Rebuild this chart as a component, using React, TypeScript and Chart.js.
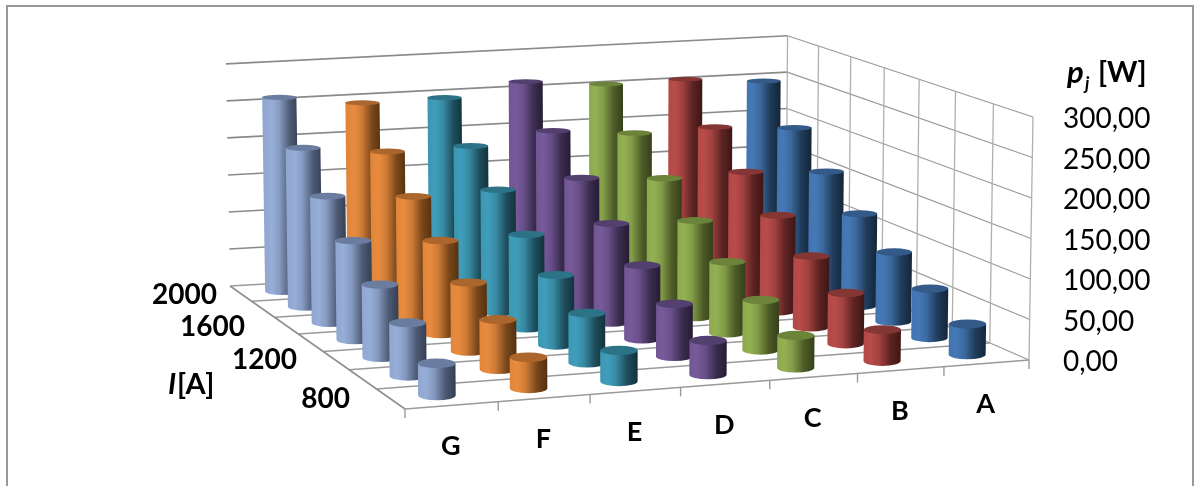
import React, { useEffect, useRef } from "react";
import { Chart, registerables } from "chart.js";

Chart.register(...registerables);

// Series run from the front-left of the floor to the right: G first, A last.
const categories = ["G", "F", "E", "D", "C", "B", "A"];
const currents = ["800", "1000", "1200", "1400", "1600", "1800", "2000"];
const currentTicks = ["800", "1200", "1600", "2000"];

const valuesG = [39, 66, 92, 127, 165, 210, 260];
const valuesF = [38, 62, 87, 120, 158, 199, 247];
const valuesE = [38, 62, 89, 121, 160, 200, 248];
const valuesD = [42, 66, 94, 128, 169, 214, 264];
const valuesC = [40, 63, 91, 125, 162, 205, 255];
const valuesB = [39, 64, 91, 125, 164, 207, 256];
const valuesA = [38, 62, 89, 120, 158, 200, 248];

const seriesValues = [valuesG, valuesF, valuesE, valuesD, valuesC, valuesB, valuesA];

const seriesBody = ["#97AED8", "#E98B3E", "#409DBA", "#775A9A", "#93B052", "#B84C49", "#4579B6"];
const seriesShade = ["#343E52", "#54300F", "#12323B", "#261C34", "#364019", "#3F1716", "#14273C"];
const seriesCap = ["#6A7DA0", "#AA662C", "#2D7388", "#54406F", "#6C833A", "#843634", "#335A88"];

// Floor corners on the page; the front edge follows the chart area's bottom.
const FLOOR = { backLeft: [230, 286], backRight: [786, 254] };
const FRAME = { x: 7, y: 6, right: 1193 };
const TICK_BASELINE_SHIFT = 2;

// Right edge and middle of each current label along the slanted floor edge.
const CURRENT_LABEL_AT: Record<string, [number, number]> = {
  "800": [350, 399],
  "1200": [297, 360],
  "1600": [245, 327],
  "2000": [217, 295],
};

type Pt = { x: number; y: number };

function floorMapper(x0: number, y0: number, x1: number, y1: number) {
  const [x2, y2] = FLOOR.backRight;
  const [x3, y3] = FLOOR.backLeft;
  const dx1 = x1 - x2, dx2 = x3 - x2, dx3 = x0 - x1 + x2 - x3;
  const dy1 = y1 - y2, dy2 = y3 - y2, dy3 = y0 - y1 + y2 - y3;
  const den = dx1 * dy2 - dx2 * dy1;
  const g = (dx3 * dy2 - dx2 * dy3) / den;
  const h = (dx1 * dy3 - dx3 * dy1) / den;
  const a = x1 - x0 + g * x1, b = x3 - x0 + h * x3;
  const d = y1 - y0 + g * y1, e = y3 - y0 + h * y3;
  return (u0: number, v: number): Pt => {
    const u = u0 - 0.05 * u0 * (1 - u0);
    const w = g * u + h * v + 1;
    return { x: (a * u + b * v + x0) / w, y: (d * u + e * v + y0) / w };
  };
}

function mix(hex: string, other: string, t: number) {
  const p = (s: string, i: number) => parseInt(s.slice(i, i + 2), 16);
  const c = [1, 3, 5].map((i) => Math.round(p(hex, i) * (1 - t) + p(other, i) * t));
  return `rgb(${c[0]},${c[1]},${c[2]})`;
}

const cylinders3d = {
  id: "cylinders3d",
  beforeDraw(chart: any) {
    const { ctx, width, height } = chart;
    ctx.save();
    ctx.fillStyle = "#fff";
    ctx.fillRect(0, 0, width, height);
    ctx.strokeStyle = "#999";
    ctx.lineWidth = 2;
    ctx.strokeRect(FRAME.x, FRAME.y, FRAME.right - FRAME.x, height + 10);
    ctx.restore();
  },
  geometry(chart: any) {
    const { chartArea: ca, scales } = chart;
    const yS = scales.y;
    const floorY = ca.bottom - TICK_BASELINE_SHIFT;
    const map = floorMapper(ca.left, floorY + 49, ca.right, floorY);
    const unit = (yS.getPixelForValue(0) - yS.getPixelForValue(300)) / 300;
    const invFront = 1 / unit;
    const scaleAt = (u: number, v: number) => 1 / (invFront - 0.024 * (1 - u) + 0.14 * v);
    const project = (u: number, v: number, z: number): Pt => {
      const b = map(u, v);
      return { x: b.x + (b.x - 630) * 0.01 * (z / 300), y: b.y - z * scaleAt(u, v) };
    };
    return { map, scaleAt, project };
  },
  beforeDatasetsDraw(chart: any) {
    const { ctx, scales } = chart;
    const { project } = (cylinders3d as any).geometry(chart);
    const ticks: number[] = scales.y.ticks.map((t: any) => t.value);
    const n = categories.length;
    const seg = (a: Pt, b: Pt, color: string, lw: number) => {
      ctx.strokeStyle = color;
      ctx.lineWidth = lw;
      ctx.beginPath();
      ctx.moveTo(a.x, a.y);
      ctx.lineTo(b.x, b.y);
      ctx.stroke();
    };
    ctx.save();
    // Back wall and side wall rulings at each value tick.
    for (const t of ticks) {
      if (t > 0) seg(project(0, 1, t), project(1, 1, t), "#8a8a8a", 1.6);
      seg(project(1, 1, t), project(1, 0, t), "#9a9a9a", 1.3);
    }
    // Side wall uprights, one per current step, continued across the floor.
    for (let k = 0; k <= n; k++) {
      const v = k / n;
      seg(project(1, v, 0), project(1, v, 300), "#b0b0b0", 1.3);
      seg(project(0, v, 0), project(1, v, 0), "#9a9a9a", 1.5);
    }
    seg(project(0, 1, 0), project(0, 0, 0), "#8f8f8f", 1.6);
    // Tick marks under the front edge.
    for (let k = 0; k <= n; k++) {
      const p = project(k / n, 0, 0);
      seg(p, { x: p.x, y: p.y + 9 }, "#9a9a9a", 1.4);
    }
    ctx.restore();
  },
  afterDatasetsDraw(chart: any) {
    const { ctx, chartArea: ca, scales } = chart;
    const { project, scaleAt } = (cylinders3d as any).geometry(chart);
    const xS = scales.x;
    const dS = scales.depth;
    const uOf = (label: string) => (xS.getPixelForValue(label) - ca.left) / ca.width;
    const vOf = (label: string) => (dS.getPixelForValue(label) - ca.left) / ca.width;
    const flat = (y: number) => 0.15 + 0.0004 * (y - 95);

    ctx.save();
    // Painter's order: back row first.
    for (let r = currents.length - 1; r >= 0; r--) {
      chart.data.datasets.forEach((ds: any, c: number) => {
        const pt = ds.data[r];
        const u = uOf(pt.x);
        const v = vOf(pt.depth);
        const b = project(u, v, 0);
        const t = project(u, v, pt.y);
        const rx = 23 * scaleAt(u, v);
        const ryB = rx * flat(b.y);
        const ryT = rx * flat(t.y);
        const body = seriesBody[c];
        const shade = seriesShade[c];
        const grad = ctx.createLinearGradient(b.x - rx, 0, b.x + rx, 0);
        grad.addColorStop(0, mix(body, shade, 0.06));
        grad.addColorStop(0.2, body);
        grad.addColorStop(0.42, mix(body, shade, 0.18));
        grad.addColorStop(0.72, mix(body, shade, 0.75));
        grad.addColorStop(1, shade);
        ctx.fillStyle = grad;
        ctx.beginPath();
        ctx.moveTo(t.x - rx, t.y);
        ctx.lineTo(b.x - rx, b.y);
        ctx.ellipse(b.x, b.y, rx, ryB, 0, Math.PI, 0, true);
        ctx.lineTo(t.x + rx, t.y);
        ctx.closePath();
        ctx.fill();
        ctx.fillStyle = seriesCap[c];
        ctx.beginPath();
        ctx.ellipse(t.x, t.y, rx, ryT, 0, 0, Math.PI * 2);
        ctx.fill();
      });
    }

    // Axis captions that follow the slanted floor edges.
    ctx.fillStyle = "#000";
    ctx.textBaseline = "middle";
    ctx.textAlign = "center";
    ctx.font = "bold 27px Lato";
    categories.forEach((cat) => {
      const p = project(uOf(cat), 0, 0);
      ctx.fillText(cat, p.x - 1, p.y + 41);
    });
    ctx.font = "bold 28px Lato";
    ctx.textAlign = "right";
    currentTicks.forEach((label) => {
      const [x, y] = CURRENT_LABEL_AT[label];
      ctx.fillText(label, x, y);
    });

    // Axis titles with mixed italic and subscript runs.
    ctx.textAlign = "left";
    ctx.font = "italic bold 29px Lato";
    ctx.fillText("I", 168, 385);
    ctx.font = "bold 29px Lato";
    ctx.fillText("[A]", 177, 385);
    ctx.font = "italic bold 31px Lato";
    ctx.fillText("p", 1067, 73);
    ctx.font = "italic bold 18px Lato";
    ctx.fillText("j", 1085, 84);
    ctx.font = "bold 29px Lato";
    ctx.fillText("[W]", 1098, 73);
    ctx.restore();
  },
};

export default function App() {
  const ref = useRef<HTMLCanvasElement>(null);
  useEffect(() => {
    document.body.style.margin = "0";
    const chart = new Chart(ref.current as HTMLCanvasElement, {
      type: "line",
      data: {
        datasets: categories.map((cat, c) => ({
          label: cat,
          showLine: false,
          pointRadius: 0,
          borderColor: seriesBody[c],
          backgroundColor: seriesBody[c],
          data: currents.map((depth, r) => ({ x: cat, y: seriesValues[c][r], depth })),
        })),
      },
      options: {
        responsive: false,
        animation: false,
        layout: { padding: { left: 405, top: 119, bottom: 124, right: 0 } },
        plugins: { legend: { display: false }, title: { display: false }, tooltip: { enabled: false } },
        scales: {
          x: { type: "category", labels: categories, offset: true, display: false },
          depth: { type: "category", axis: "x", labels: currents, offset: true, display: false },
          y: {
            position: "right",
            min: 0,
            max: 300,
            grid: { display: false },
            border: { display: false },
            afterFit: (s: any) => { s.width = 167; },
            ticks: {
              stepSize: 50,
              padding: 26,
              color: "#000",
              font: { family: "Lato", size: 28 },
              callback: (v: any) => Number(v).toFixed(2).replace(".", ","),
            },
          },
        },
      },
      plugins: [cylinders3d],
    } as any);
    return () => chart.destroy();
  }, []);
  return <canvas ref={ref} width={1196} height={486} style={{ display: "block" }} />;
}
